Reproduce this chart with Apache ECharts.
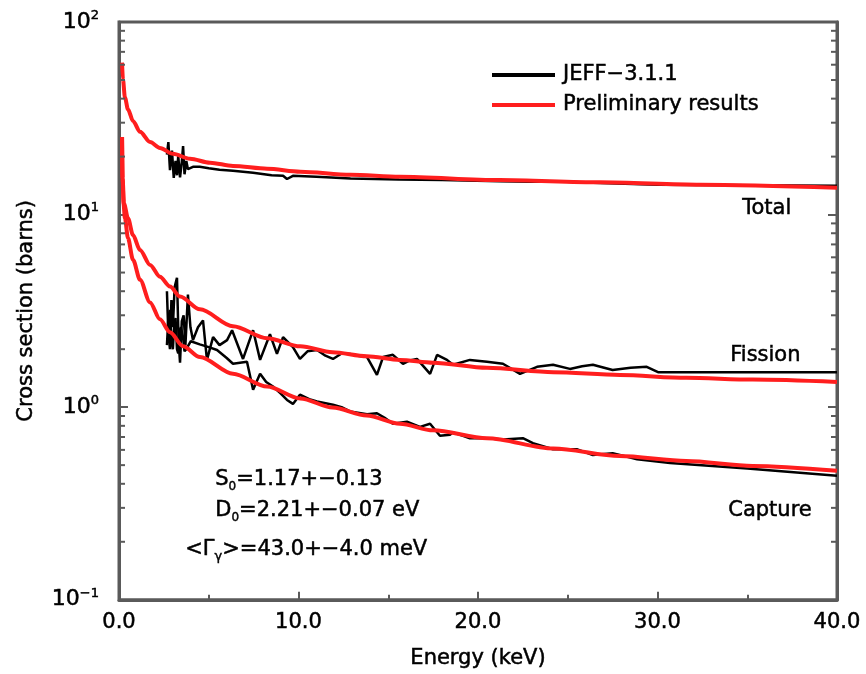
<!DOCTYPE html>
<html>
<head>
<meta charset="utf-8">
<script src="https://cdn.jsdelivr.net/npm/echarts@6/dist/echarts.min.js"></script>
<style>
  html, body { margin: 0; padding: 0; background: #fff; }
  #chart { width: 866px; height: 674px; }
</style>
</head>
<body>
<div id="chart"></div>
<script>
// Energy in keV, cross sections in barns: [energy, sigma]
const totalPrelim = [[0.17,61.5],[0.22,50.3],[0.33,40.6],[0.5,35.2],[0.78,30.6],[1.17,26.9],[1.73,23.8],[2.28,22.2],[3.0,20.7],[3.96,19.5],[5.07,18.6],[6.35,17.9],[8.25,17.3],[10.1,16.7],[12.9,16.1],[15.65,15.7],[21.2,15.1],[26.8,14.7],[32.4,14.3],[40,13.8]];
const fissionPrelim = [[0.17,25.3],[0.2,15.4],[0.28,11.4],[0.5,9.57],[0.78,7.83],[1.17,6.55],[1.73,5.48],[2.28,4.76],[2.84,4.23],[3.4,3.75],[4.51,3.22],[6.35,2.63],[8.25,2.28],[10.1,2.07],[11.9,1.93],[13.8,1.84],[15.65,1.76],[17.5,1.70],[20.5,1.60],[24.2,1.52],[27.9,1.47],[31.6,1.42],[35.3,1.39],[40,1.35]];
const capturePrelim = [[0.17,25.3],[0.2,15.4],[0.25,11.4],[0.33,9.57],[0.5,7.55],[0.78,5.82],[1.17,4.59],[1.73,3.50],[2.28,2.86],[2.84,2.45],[3.57,2.07],[4.51,1.82],[6.35,1.49],[8.25,1.28],[10.1,1.11],[11.9,0.995],[13.8,0.905],[15.65,0.82],[17.5,0.758],[20.5,0.69],[24.2,0.61],[27.9,0.557],[31.6,0.525],[35.3,0.495],[40,0.467]];

const totalJeff = [[2.67,20.5],[2.75,23.8],[2.84,17.0],[2.95,21.5],[3.05,15.5],[3.15,19.0],[3.23,16.0],[3.3,20.2],[3.4,15.6],[3.5,18.8],[3.57,22.7],[3.65,16.2],[3.75,19.0],[3.84,17.2],[4.12,17.7],[4.5,17.7],[5.0,17.4],[5.6,17.1],[6.35,16.9],[7.47,16.5],[8.5,16.0],[9.14,15.9],[9.36,15.3],[9.69,15.9],[11.0,15.7],[12.9,15.4],[15.6,15.2],[18.0,15.1],[21.2,14.9],[23.0,14.8],[24.2,14.9],[26.8,14.6],[30.0,14.3],[40,14.1]];
const fissionJeff = [[2.67,4.0],[2.75,2.4],[2.84,2.0],[2.92,3.6],[3.0,2.6],[3.1,4.2],[3.23,4.7],[3.32,2.2],[3.4,1.7],[3.5,2.8],[3.6,3.0],[3.7,2.1],[3.84,3.84],[3.98,2.6],[4.12,2.23],[4.4,2.6],[4.68,2.82],[4.9,1.76],[5.24,2.31],[5.6,2.1],[6.02,2.23],[6.3,2.51],[6.91,1.78],[7.47,2.51],[7.86,1.76],[8.41,2.39],[8.8,1.89],[9.14,2.31],[9.69,2.05],[10.08,1.78],[10.5,1.95],[11.03,1.98],[11.5,1.85],[11.92,1.78],[12.4,1.9],[12.87,1.89],[13.3,1.85],[13.82,1.82],[14.37,1.47],[14.71,1.82],[15.26,1.87],[15.82,1.68],[16.2,1.75],[16.6,1.78],[17.33,1.49],[17.72,1.87],[18.27,1.76],[18.61,1.66],[19.55,1.76],[20.5,1.72],[21.39,1.68],[22.34,1.49],[23.29,1.62],[24.18,1.66],[25.12,1.58],[25.8,1.63],[26.4,1.66],[27.5,1.56],[28.5,1.6],[29.4,1.62],[30.03,1.52],[40,1.52]];
const captureJeff = [[2.67,2.1],[2.75,2.9],[2.84,3.2],[2.92,2.2],[3.0,2.0],[3.08,2.7],[3.15,2.9],[3.23,2.0],[3.3,1.9],[3.38,2.5],[3.45,2.6],[3.57,2.3],[3.65,1.95],[3.75,2.0],[4.0,2.2],[4.5,2.12],[5.0,2.05],[5.46,1.98],[6.0,1.8],[6.35,1.68],[7.13,1.72],[7.47,1.23],[7.86,1.49],[8.2,1.35],[8.58,1.28],[9.0,1.18],[9.36,1.09],[9.69,1.04],[10.08,1.16],[10.6,1.1],[11.03,1.07],[11.92,1.03],[12.4,1.0],[12.87,0.95],[13.82,0.92],[14.37,0.93],[14.8,0.88],[15.26,0.82],[16.04,0.84],[16.77,0.79],[17.33,0.82],[17.88,0.71],[18.44,0.72],[18.61,0.74],[19.55,0.69],[20.5,0.69],[21.39,0.68],[22.5,0.69],[23.06,0.65],[24.18,0.605],[25.5,0.605],[26.4,0.564],[27.5,0.577],[28.86,0.537],[30.7,0.513],[35,0.48],[40,0.44]];

// Minor tick positions of the logarithmic axis (2..9 in each decade)
const logMinorTicks = [0.2,0.3,0.4,0.5,0.6,0.7,0.8,0.9,2,3,4,5,6,7,8,9,20,30,40,50,60,70,80,90];

const FONT = 'DejaVu Sans';
const AXIS_COLOR = '#5a5a5a';
const RED = '#ff1e1e';
const BLACK = '#000000';
// thin outline thickens the glyphs a little
const INK = { textBorderColor: '#000', textBorderWidth: 0.5 };

const chart = echarts.init(document.getElementById('chart'), null, { renderer: 'canvas' });

function expLabel(v) {
  const e = Math.round(Math.log10(v));
  const s = e < 0 ? '\u2212' + (-e) : String(e);
  return '{b|10}{s|' + s + '}';
}

function jeffSeries(data) {
  return {
    name: 'JEFF\u22123.1.1', type: 'line', data: data, showSymbol: false, symbol: 'none',
    lineStyle: { color: BLACK, width: 2.5 }, itemStyle: { color: BLACK }, z: 2
  };
}
function prelimSeries(data) {
  return {
    name: 'Preliminary results', type: 'line', data: data, showSymbol: false, symbol: 'none',
    smooth: 0.3, smoothMonotone: 'x',
    lineStyle: { color: RED, width: 4 }, itemStyle: { color: RED }, z: 3
  };
}

function richText(main, sub, subSize) {
  return {
    a: Object.assign({ fontFamily: FONT, fontSize: 21, fill: '#000', lineHeight: 26, stroke: '#000', lineWidth: 0.5 }, {}),
    b: { fontFamily: FONT, fontSize: subSize, fill: '#000', verticalAlign: 'bottom', lineHeight: 14, stroke: '#000', lineWidth: 0.4 }
  };
}

const plainText = (txt, left, top) => ({
  type: 'text', left: left, top: top,
  style: { text: txt, font: '21px "DejaVu Sans"', fill: '#000', stroke: '#000', lineWidth: 0.5 }
});

const option = {
  animation: false,
  backgroundColor: '#fff',
  textStyle: { fontFamily: FONT, color: '#000' },
  grid: {
    left: 119, right: 29, top: 22, bottom: 69,
    show: true, borderColor: AXIS_COLOR, borderWidth: 3, backgroundColor: 'transparent'
  },
  legend: {
    orient: 'vertical', left: 487, top: 58,
    icon: 'rect', itemWidth: 63, itemHeight: 4, itemGap: 6,
    data: ['JEFF\u22123.1.1', 'Preliminary results'],
    textStyle: Object.assign({ fontFamily: FONT, fontSize: 21, color: '#000', lineHeight: 24, padding: [0, 0, 0, 3] }, INK),
    selectedMode: false
  },
  xAxis: {
    type: 'value', min: 0, max: 40, interval: 10,
    name: 'Energy (keV)', nameLocation: 'middle', nameGap: 48,
    nameTextStyle: Object.assign({ fontFamily: FONT, fontSize: 21, color: '#000' }, INK),
    axisLine: { show: true, lineStyle: { color: AXIS_COLOR, width: 3 } },
    axisTick: { show: true, inside: true, length: 8, lineStyle: { color: AXIS_COLOR, width: 2 } },
    minorTick: { show: true, splitNumber: 2, length: 5, lineStyle: { color: AXIS_COLOR, width: 2 } },
    splitLine: { show: false },
    axisLabel: Object.assign({ fontFamily: FONT, fontSize: 21, color: '#000', margin: 12, formatter: v => v.toFixed(1) }, INK)
  },
  yAxis: [{
    type: 'log', logBase: 10, min: 0.1, max: 100,
    name: 'Cross section (barns)', nameLocation: 'middle', nameGap: 82, nameRotate: 90,
    nameTextStyle: Object.assign({ fontFamily: FONT, fontSize: 21, color: '#000' }, INK),
    axisLine: { show: true, lineStyle: { color: AXIS_COLOR, width: 3 } },
    axisTick: { show: true, inside: true, length: 9, lineStyle: { color: AXIS_COLOR, width: 2 } },
    splitLine: { show: false },
    axisLabel: {
      margin: 20, formatter: expLabel,
      rich: {
        b: Object.assign({ fontFamily: FONT, fontSize: 22, color: '#000', lineHeight: 26 }, INK),
        s: Object.assign({ fontFamily: FONT, fontSize: 13, color: '#000', verticalAlign: 'top', lineHeight: 14 }, INK)
      }
    }
  }, {
    type: 'log', logBase: 10, min: 0.1, max: 100, position: 'right',
    axisLine: { show: true, lineStyle: { color: AXIS_COLOR, width: 3 } },
    axisTick: { show: true, inside: true, length: 9, lineStyle: { color: AXIS_COLOR, width: 2 } },
    axisLabel: { show: false }, splitLine: { show: false }
  }],
  series: [
    jeffSeries(totalJeff), jeffSeries(fissionJeff), jeffSeries(captureJeff),
    prelimSeries(totalPrelim), prelimSeries(fissionPrelim), prelimSeries(capturePrelim),
    {
      // minor ticks on both vertical edges of the frame
      type: 'custom', silent: true, z: 5,
      data: logMinorTicks.map(v => [0, v]),
      encode: { x: 0, y: 1 },
      renderItem: function (params, api) {
        const y = api.coord([0, api.value(1)])[1];
        const cs = params.coordSys;
        const st = { stroke: AXIS_COLOR, lineWidth: 2 };
        return {
          type: 'group',
          children: [
            { type: 'line', shape: { x1: cs.x, y1: y, x2: cs.x + 6, y2: y }, style: st },
            { type: 'line', shape: { x1: cs.x + cs.width, y1: y, x2: cs.x + cs.width - 6, y2: y }, style: st }
          ]
        };
      }
    }
  ],
  graphic: [
    plainText('Total', 742, 198),
    plainText('Fission', 730, 345),
    plainText('Capture', 728, 500),
    { type: 'text', left: 215, top: 469, style: { text: '{a|S}{b|0}{a|=1.17+\u22120.13}', rich: richText(null, null, 12) } },
    { type: 'text', left: 215, top: 500, style: { text: '{a|D}{b|0}{a|=2.21+\u22120.07 eV}', rich: richText(null, null, 12) } },
    { type: 'text', left: 185, top: 539, style: { text: '{a|<\u0393}{b|\u03b3}{a|>=43.0+\u22124.0 meV}', rich: richText(null, null, 13) } }
  ]
};

chart.setOption(option);
</script>
</body>
</html>
